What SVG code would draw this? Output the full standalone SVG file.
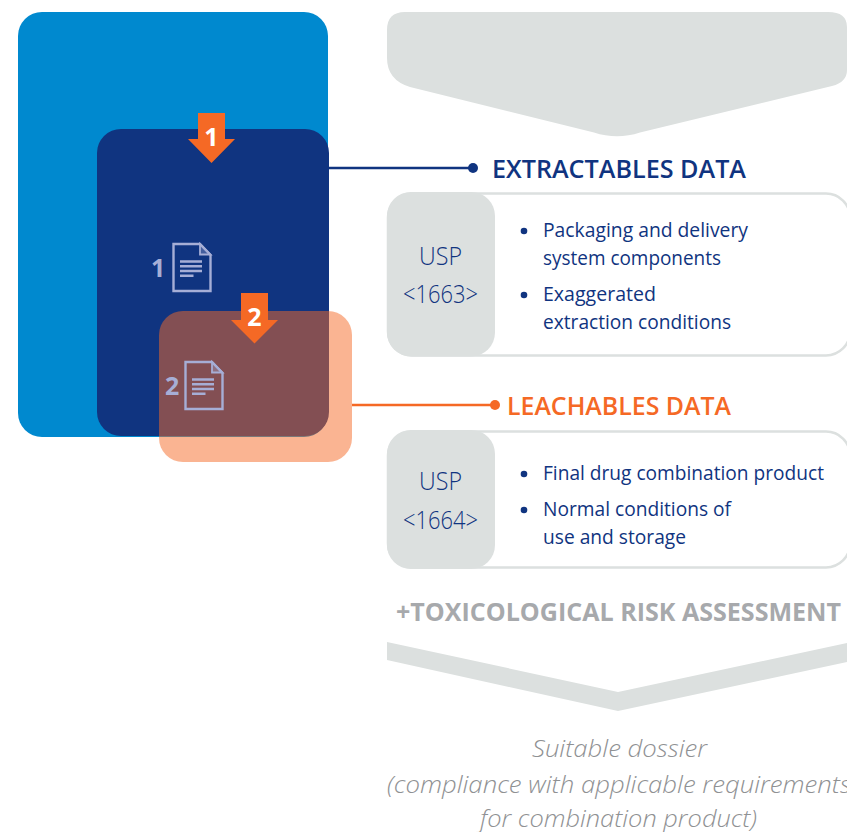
<svg xmlns="http://www.w3.org/2000/svg" width="847" height="832" viewBox="0 0 847 832">
<style>
text{font-family:"Open Sans","Noto Sans","Liberation Sans",sans-serif}
.gray{fill:#dce0df}
.body{font-size:20.5px;fill:#103480}
.usp{font-size:25.5px;font-weight:300;fill:#103480}
.head{font-size:25.5px;font-weight:600}
.bul{fill:#103480}
.doc{fill:none;stroke:#a6aed6;stroke-width:2.400}
.fold{fill:#a6aed6;fill-opacity:.35;stroke:#a6aed6;stroke-width:1.800}
.docnum{font-size:25px;font-weight:700;fill:#a6aed6}
.arrow{fill:#f56925}
.arrownum{font-size:25px;font-weight:700;fill:#fff;text-anchor:middle}
.foot{font-size:24px;font-weight:300;font-style:italic;fill:#8f9193}
</style>
<defs>
<g id="docicon">
<path class="doc" d="M1 1H27.500L38 12V48H1Z"/>
<path class="fold" d="M27.500 1V11.500H38Z"/>
<path class="doc" d="M7.500 18.500H29.500M7.500 23.200H29.500M7.500 28H29.500M7.500 32.800H21"/>
</g>
</defs>
<g id="outer-blue"><rect x="18" y="12" width="310" height="425" rx="24" fill="#0089cf"/></g>
<g id="navy-box"><rect x="97" y="129" width="232" height="307" rx="24" fill="#103480"/></g>
<g id="doc1"><text class="docnum" x="151" y="277">1</text><use href="#docicon" x="172.500" y="243"/></g>
<g id="peach-box"><rect x="159" y="311" width="193" height="151" rx="24" fill="#f56925" fill-opacity=".5"/></g>
<g id="doc2"><text class="docnum" x="165" y="395">2</text><use href="#docicon" x="184.500" y="361"/></g>
<g id="arrow1"><path class="arrow" d="M198 113H225V139H235L211.500 163L188 139H198Z"/><text class="arrownum" x="211.500" y="146">1</text></g>
<g id="arrow2"><path class="arrow" d="M241 293H268V320H278L254.500 343.500L231 320H241Z"/><text class="arrownum" x="254.500" y="326">2</text></g>
<g id="connectors">
<path d="M329 168H473" stroke="#103480" stroke-width="2.500" fill="none"/><circle cx="473" cy="168" r="5" fill="#103480"/>
<path d="M352 405H495" stroke="#f56925" stroke-width="2.500" fill="none"/><circle cx="495" cy="405" r="5" fill="#f56925"/>
</g>
<g id="top-chevron"><path class="gray" d="M405 12H828Q847 12 847 27V70Q847 82 832 86L640 132.500Q617 140 594 132.500L410 87Q387 80 387 58V30Q387 12 405 12Z"/></g>
<g id="extractables">
<text class="head" x="492" y="178" fill="#103480" textLength="254" lengthAdjust="spacingAndGlyphs">EXTRACTABLES DATA</text>
<rect x="388" y="193.500" width="462" height="162" rx="24" fill="#fff" stroke="#dce0df" stroke-width="2.500"/>
<rect class="gray" x="387" y="192" width="108" height="164.500" rx="24"/>
<text class="usp" x="419" y="265" textLength="43" lengthAdjust="spacingAndGlyphs">USP</text><text class="usp" x="403" y="303" textLength="75" lengthAdjust="spacingAndGlyphs">&lt;1663&gt;</text>
<circle class="bul" cx="524" cy="231" r="3.300"/><circle class="bul" cx="524" cy="295" r="3.300"/>
<text class="body" x="543" y="237" textLength="205" lengthAdjust="spacingAndGlyphs">Packaging and delivery</text>
<text class="body" x="543" y="265" textLength="178" lengthAdjust="spacingAndGlyphs">system components</text>
<text class="body" x="543" y="301" textLength="113" lengthAdjust="spacingAndGlyphs">Exaggerated</text>
<text class="body" x="543" y="329" textLength="188" lengthAdjust="spacingAndGlyphs">extraction conditions</text>
</g>
<g id="leachables">
<text class="head" x="507" y="415" fill="#f56925" textLength="224" lengthAdjust="spacingAndGlyphs">LEACHABLES DATA</text>
<rect x="388" y="431.500" width="462" height="136" rx="24" fill="#fff" stroke="#dce0df" stroke-width="2.500"/>
<rect class="gray" x="387" y="430" width="108" height="139" rx="24"/>
<text class="usp" x="419" y="490" textLength="43" lengthAdjust="spacingAndGlyphs">USP</text><text class="usp" x="403" y="529" textLength="75" lengthAdjust="spacingAndGlyphs">&lt;1664&gt;</text>
<circle class="bul" cx="524" cy="474" r="3.300"/><circle class="bul" cx="524" cy="510" r="3.300"/>
<text class="body" x="543" y="480" textLength="281" lengthAdjust="spacingAndGlyphs">Final drug combination product</text>
<text class="body" x="543" y="516" textLength="188" lengthAdjust="spacingAndGlyphs">Normal conditions of</text>
<text class="body" x="543" y="544" textLength="143" lengthAdjust="spacingAndGlyphs">use and storage</text>
</g>
<g id="toxicological">
<text x="396" y="621" font-size="24.500" font-weight="700" fill="#a7a9ac" textLength="445" lengthAdjust="spacingAndGlyphs">+TOXICOLOGICAL RISK ASSESSMENT</text>
</g>
<g id="lower-chevron"><path class="gray" d="M387 642L618 692L847 643V662L618 711L387 660Z"/></g>
<g id="dossier">
<text class="foot" x="532" y="757" textLength="175" lengthAdjust="spacingAndGlyphs">Suitable dossier</text>
<text class="foot" x="387" y="793" textLength="464" lengthAdjust="spacingAndGlyphs">(compliance with applicable requirements</text>
<text class="foot" x="480" y="826.500" textLength="277" lengthAdjust="spacingAndGlyphs">for combination product)</text>
</g>
</svg>
